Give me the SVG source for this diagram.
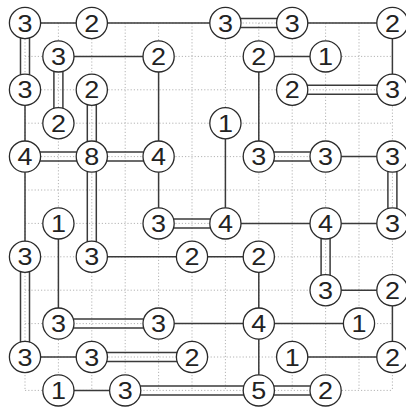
<svg xmlns="http://www.w3.org/2000/svg" width="406" height="407" viewBox="0 0 406 407">
<style>
.grid line{stroke:#b4b4b4;stroke-width:1;stroke-dasharray:1.2 2}
.br line{stroke:#3a3a3a;stroke-width:1.5}
.n circle{fill:#fff;stroke:#2a2a2a;stroke-width:1.3}
.n text{font-family:"Liberation Sans",Arial,sans-serif;font-size:23.5px;fill:#222;text-anchor:middle}
</style>
<rect width="406" height="407" fill="#fff"/>
<g class="grid">
<line x1="25" y1="23" x2="25" y2="390.4"/><line x1="58.4" y1="23" x2="58.4" y2="390.4"/><line x1="91.8" y1="23" x2="91.8" y2="390.4"/><line x1="125.2" y1="23" x2="125.2" y2="390.4"/><line x1="158.6" y1="23" x2="158.6" y2="390.4"/><line x1="192" y1="23" x2="192" y2="390.4"/><line x1="225.4" y1="23" x2="225.4" y2="390.4"/><line x1="258.8" y1="23" x2="258.8" y2="390.4"/><line x1="292.2" y1="23" x2="292.2" y2="390.4"/><line x1="325.6" y1="23" x2="325.6" y2="390.4"/><line x1="359" y1="23" x2="359" y2="390.4"/><line x1="392.4" y1="23" x2="392.4" y2="390.4"/>
<line x1="25" y1="23" x2="392.4" y2="23"/><line x1="25" y1="56.4" x2="392.4" y2="56.4"/><line x1="25" y1="89.8" x2="392.4" y2="89.8"/><line x1="25" y1="123.2" x2="392.4" y2="123.2"/><line x1="25" y1="156.6" x2="392.4" y2="156.6"/><line x1="25" y1="190" x2="392.4" y2="190"/><line x1="25" y1="223.4" x2="392.4" y2="223.4"/><line x1="25" y1="256.8" x2="392.4" y2="256.8"/><line x1="25" y1="290.2" x2="392.4" y2="290.2"/><line x1="25" y1="323.6" x2="392.4" y2="323.6"/><line x1="25" y1="357" x2="392.4" y2="357"/><line x1="25" y1="390.4" x2="392.4" y2="390.4"/>
</g>
<g class="br" id="connectors">
<line x1="25" y1="23" x2="91.8" y2="23"/><line x1="91.8" y1="23" x2="225.4" y2="23"/><line x1="292.2" y1="23" x2="392.4" y2="23"/>
<line x1="58.4" y1="56.4" x2="158.6" y2="56.4"/><line x1="258.8" y1="56.4" x2="325.6" y2="56.4"/>
<line x1="325.6" y1="156.6" x2="392.4" y2="156.6"/>
<line x1="225.4" y1="223.4" x2="325.6" y2="223.4"/><line x1="325.6" y1="223.4" x2="392.4" y2="223.4"/>
<line x1="91.8" y1="256.8" x2="192" y2="256.8"/><line x1="192" y1="256.8" x2="258.8" y2="256.8"/>
<line x1="325.6" y1="290.2" x2="392.4" y2="290.2"/>
<line x1="158.6" y1="323.6" x2="258.8" y2="323.6"/><line x1="258.8" y1="323.6" x2="359" y2="323.6"/>
<line x1="25" y1="357" x2="91.8" y2="357"/><line x1="292.2" y1="357" x2="392.4" y2="357"/>
<line x1="58.4" y1="390.4" x2="125.2" y2="390.4"/>
<line x1="25" y1="89.8" x2="25" y2="156.6"/><line x1="25" y1="156.6" x2="25" y2="256.8"/>
<line x1="158.6" y1="56.4" x2="158.6" y2="156.6"/><line x1="158.6" y1="156.6" x2="158.6" y2="223.4"/>
<line x1="225.4" y1="123.2" x2="225.4" y2="223.4"/>
<line x1="258.8" y1="56.4" x2="258.8" y2="156.6"/><line x1="258.8" y1="256.8" x2="258.8" y2="323.6"/><line x1="258.8" y1="323.6" x2="258.8" y2="390.4"/>
<line x1="392.4" y1="23" x2="392.4" y2="89.8"/><line x1="392.4" y1="290.2" x2="392.4" y2="357"/>
<line x1="58.4" y1="223.4" x2="58.4" y2="323.6"/>
<line x1="225.4" y1="18.5" x2="292.2" y2="18.5"/><line x1="225.4" y1="27.5" x2="292.2" y2="27.5"/>
<line x1="292.2" y1="85.3" x2="392.4" y2="85.3"/><line x1="292.2" y1="94.3" x2="392.4" y2="94.3"/>
<line x1="25" y1="152.1" x2="158.6" y2="152.1"/><line x1="25" y1="161.1" x2="158.6" y2="161.1"/>
<line x1="258.8" y1="152.1" x2="325.6" y2="152.1"/><line x1="258.8" y1="161.1" x2="325.6" y2="161.1"/>
<line x1="158.6" y1="218.9" x2="225.4" y2="218.9"/><line x1="158.6" y1="227.9" x2="225.4" y2="227.9"/>
<line x1="58.4" y1="319.1" x2="158.6" y2="319.1"/><line x1="58.4" y1="328.1" x2="158.6" y2="328.1"/>
<line x1="91.8" y1="352.5" x2="192" y2="352.5"/><line x1="91.8" y1="361.5" x2="192" y2="361.5"/>
<line x1="125.2" y1="385.9" x2="325.6" y2="385.9"/><line x1="125.2" y1="394.9" x2="325.6" y2="394.9"/>
<line x1="20.5" y1="23" x2="20.5" y2="89.8"/><line x1="29.5" y1="23" x2="29.5" y2="89.8"/>
<line x1="20.5" y1="256.8" x2="20.5" y2="357"/><line x1="29.5" y1="256.8" x2="29.5" y2="357"/>
<line x1="53.9" y1="56.4" x2="53.9" y2="123.2"/><line x1="62.9" y1="56.4" x2="62.9" y2="123.2"/>
<line x1="87.3" y1="89.8" x2="87.3" y2="256.8"/><line x1="96.3" y1="89.8" x2="96.3" y2="256.8"/>
<line x1="387.9" y1="156.6" x2="387.9" y2="223.4"/><line x1="396.9" y1="156.6" x2="396.9" y2="223.4"/>
<line x1="321.1" y1="223.4" x2="321.1" y2="290.2"/><line x1="330.1" y1="223.4" x2="330.1" y2="290.2"/>
</g>
<g class="n" id="n0_0"><circle cx="25" cy="23" r="15.6"/><text x="25" y="31.6" textLength="15" lengthAdjust="spacingAndGlyphs">3</text></g>
<g class="n" id="n2_0"><circle cx="91.8" cy="23" r="15.6"/><text x="91.8" y="31.6" textLength="15" lengthAdjust="spacingAndGlyphs">2</text></g>
<g class="n" id="n6_0"><circle cx="225.4" cy="23" r="15.6"/><text x="225.4" y="31.6" textLength="15" lengthAdjust="spacingAndGlyphs">3</text></g>
<g class="n" id="n8_0"><circle cx="292.2" cy="23" r="15.6"/><text x="292.2" y="31.6" textLength="15" lengthAdjust="spacingAndGlyphs">3</text></g>
<g class="n" id="n11_0"><circle cx="392.4" cy="23" r="15.6"/><text x="392.4" y="31.6" textLength="15" lengthAdjust="spacingAndGlyphs">2</text></g>
<g class="n" id="n1_1"><circle cx="58.4" cy="56.4" r="15.6"/><text x="58.4" y="65" textLength="15" lengthAdjust="spacingAndGlyphs">3</text></g>
<g class="n" id="n4_1"><circle cx="158.6" cy="56.4" r="15.6"/><text x="158.6" y="65" textLength="15" lengthAdjust="spacingAndGlyphs">2</text></g>
<g class="n" id="n7_1"><circle cx="258.8" cy="56.4" r="15.6"/><text x="258.8" y="65" textLength="15" lengthAdjust="spacingAndGlyphs">2</text></g>
<g class="n" id="n9_1"><circle cx="325.6" cy="56.4" r="15.6"/><text x="325.6" y="65" textLength="15" lengthAdjust="spacingAndGlyphs">1</text></g>
<g class="n" id="n0_2"><circle cx="25" cy="89.8" r="15.6"/><text x="25" y="98.4" textLength="15" lengthAdjust="spacingAndGlyphs">3</text></g>
<g class="n" id="n2_2"><circle cx="91.8" cy="89.8" r="15.6"/><text x="91.8" y="98.4" textLength="15" lengthAdjust="spacingAndGlyphs">2</text></g>
<g class="n" id="n8_2"><circle cx="292.2" cy="89.8" r="15.6"/><text x="292.2" y="98.4" textLength="15" lengthAdjust="spacingAndGlyphs">2</text></g>
<g class="n" id="n11_2"><circle cx="392.4" cy="89.8" r="15.6"/><text x="392.4" y="98.4" textLength="15" lengthAdjust="spacingAndGlyphs">3</text></g>
<g class="n" id="n1_3"><circle cx="58.4" cy="123.2" r="15.6"/><text x="58.4" y="131.8" textLength="15" lengthAdjust="spacingAndGlyphs">2</text></g>
<g class="n" id="n6_3"><circle cx="225.4" cy="123.2" r="15.6"/><text x="225.4" y="131.8" textLength="15" lengthAdjust="spacingAndGlyphs">1</text></g>
<g class="n" id="n0_4"><circle cx="25" cy="156.6" r="15.6"/><text x="25" y="165.2" textLength="15" lengthAdjust="spacingAndGlyphs">4</text></g>
<g class="n" id="n2_4"><circle cx="91.8" cy="156.6" r="15.6"/><text x="91.8" y="165.2" textLength="15" lengthAdjust="spacingAndGlyphs">8</text></g>
<g class="n" id="n4_4"><circle cx="158.6" cy="156.6" r="15.6"/><text x="158.6" y="165.2" textLength="15" lengthAdjust="spacingAndGlyphs">4</text></g>
<g class="n" id="n7_4"><circle cx="258.8" cy="156.6" r="15.6"/><text x="258.8" y="165.2" textLength="15" lengthAdjust="spacingAndGlyphs">3</text></g>
<g class="n" id="n9_4"><circle cx="325.6" cy="156.6" r="15.6"/><text x="325.6" y="165.2" textLength="15" lengthAdjust="spacingAndGlyphs">3</text></g>
<g class="n" id="n11_4"><circle cx="392.4" cy="156.6" r="15.6"/><text x="392.4" y="165.2" textLength="15" lengthAdjust="spacingAndGlyphs">3</text></g>
<g class="n" id="n1_6"><circle cx="58.4" cy="223.4" r="15.6"/><text x="58.4" y="232" textLength="15" lengthAdjust="spacingAndGlyphs">1</text></g>
<g class="n" id="n4_6"><circle cx="158.6" cy="223.4" r="15.6"/><text x="158.6" y="232" textLength="15" lengthAdjust="spacingAndGlyphs">3</text></g>
<g class="n" id="n6_6"><circle cx="225.4" cy="223.4" r="15.6"/><text x="225.4" y="232" textLength="15" lengthAdjust="spacingAndGlyphs">4</text></g>
<g class="n" id="n9_6"><circle cx="325.6" cy="223.4" r="15.6"/><text x="325.6" y="232" textLength="15" lengthAdjust="spacingAndGlyphs">4</text></g>
<g class="n" id="n11_6"><circle cx="392.4" cy="223.4" r="15.6"/><text x="392.4" y="232" textLength="15" lengthAdjust="spacingAndGlyphs">3</text></g>
<g class="n" id="n0_7"><circle cx="25" cy="256.8" r="15.6"/><text x="25" y="265.4" textLength="15" lengthAdjust="spacingAndGlyphs">3</text></g>
<g class="n" id="n2_7"><circle cx="91.8" cy="256.8" r="15.6"/><text x="91.8" y="265.4" textLength="15" lengthAdjust="spacingAndGlyphs">3</text></g>
<g class="n" id="n5_7"><circle cx="192" cy="256.8" r="15.6"/><text x="192" y="265.4" textLength="15" lengthAdjust="spacingAndGlyphs">2</text></g>
<g class="n" id="n7_7"><circle cx="258.8" cy="256.8" r="15.6"/><text x="258.8" y="265.4" textLength="15" lengthAdjust="spacingAndGlyphs">2</text></g>
<g class="n" id="n9_8"><circle cx="325.6" cy="290.2" r="15.6"/><text x="325.6" y="298.8" textLength="15" lengthAdjust="spacingAndGlyphs">3</text></g>
<g class="n" id="n11_8"><circle cx="392.4" cy="290.2" r="15.6"/><text x="392.4" y="298.8" textLength="15" lengthAdjust="spacingAndGlyphs">2</text></g>
<g class="n" id="n1_9"><circle cx="58.4" cy="323.6" r="15.6"/><text x="58.4" y="332.2" textLength="15" lengthAdjust="spacingAndGlyphs">3</text></g>
<g class="n" id="n4_9"><circle cx="158.6" cy="323.6" r="15.6"/><text x="158.6" y="332.2" textLength="15" lengthAdjust="spacingAndGlyphs">3</text></g>
<g class="n" id="n7_9"><circle cx="258.8" cy="323.6" r="15.6"/><text x="258.8" y="332.2" textLength="15" lengthAdjust="spacingAndGlyphs">4</text></g>
<g class="n" id="n10_9"><circle cx="359" cy="323.6" r="15.6"/><text x="359" y="332.2" textLength="15" lengthAdjust="spacingAndGlyphs">1</text></g>
<g class="n" id="n0_10"><circle cx="25" cy="357" r="15.6"/><text x="25" y="365.6" textLength="15" lengthAdjust="spacingAndGlyphs">3</text></g>
<g class="n" id="n2_10"><circle cx="91.8" cy="357" r="15.6"/><text x="91.8" y="365.6" textLength="15" lengthAdjust="spacingAndGlyphs">3</text></g>
<g class="n" id="n5_10"><circle cx="192" cy="357" r="15.6"/><text x="192" y="365.6" textLength="15" lengthAdjust="spacingAndGlyphs">2</text></g>
<g class="n" id="n8_10"><circle cx="292.2" cy="357" r="15.6"/><text x="292.2" y="365.6" textLength="15" lengthAdjust="spacingAndGlyphs">1</text></g>
<g class="n" id="n11_10"><circle cx="392.4" cy="357" r="15.6"/><text x="392.4" y="365.6" textLength="15" lengthAdjust="spacingAndGlyphs">2</text></g>
<g class="n" id="n1_11"><circle cx="58.4" cy="390.4" r="15.6"/><text x="58.4" y="399" textLength="15" lengthAdjust="spacingAndGlyphs">1</text></g>
<g class="n" id="n3_11"><circle cx="125.2" cy="390.4" r="15.6"/><text x="125.2" y="399" textLength="15" lengthAdjust="spacingAndGlyphs">3</text></g>
<g class="n" id="n7_11"><circle cx="258.8" cy="390.4" r="15.6"/><text x="258.8" y="399" textLength="15" lengthAdjust="spacingAndGlyphs">5</text></g>
<g class="n" id="n9_11"><circle cx="325.6" cy="390.4" r="15.6"/><text x="325.6" y="399" textLength="15" lengthAdjust="spacingAndGlyphs">2</text></g>
</svg>
